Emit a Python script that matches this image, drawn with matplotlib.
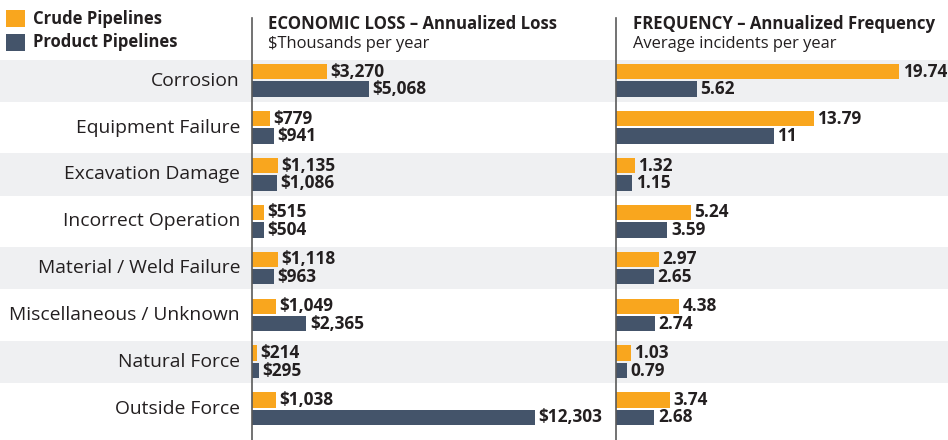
import matplotlib
matplotlib.use("Agg")
import matplotlib.pyplot as plt
from matplotlib.patches import Rectangle

categories = ["Corrosion", "Equipment Failure", "Excavation Damage", "Incorrect Operation",
              "Material / Weld Failure", "Miscellaneous / Unknown", "Natural Force", "Outside Force"]
loss_crude = [3270, 779, 1135, 515, 1118, 1049, 214, 1038]
loss_product = [5068, 941, 1086, 504, 963, 2365, 295, 12303]
freq_crude = [19.74, 13.79, 1.32, 5.24, 2.97, 4.38, 1.03, 3.74]
freq_product = [5.62, 11, 1.15, 3.59, 2.65, 2.74, 0.79, 2.68]

ORANGE = "#F9A61E"
BLUE = "#44546A"
BAND = "#EFF0F2"
TXT = "#231F20"
AXC = "#5A5A5A"
FONT = "Open Sans"
plt.rcParams["font.family"] = [FONT, "DejaVu Sans"]

W, H = 948, 440
fig = plt.figure(figsize=(W / 100, H / 100), dpi=100)

def fx(px):
    return px / W

def fy(py):
    return 1 - py / H

top_px = 18
ax_bottom = 0.0
ax_top = fy(top_px)
ylim = (7.66, -1.335)

# background bands
bg = fig.add_axes([0, ax_bottom, 1, ax_top - ax_bottom])
bg.set_xlim(0, 1)
bg.set_ylim(*ylim)
for i in range(len(categories)):
    if i % 2 == 0:
        bg.axhspan(i - 0.45, i + 0.45, color=BAND, lw=0)
    bg.text(fx(240), i, categories[i], ha="right", va="center", fontsize=13.9,
            color=TXT, transform=bg.get_yaxis_transform())
bg.axis("off")

bh = 0.33
off_c = -0.19
off_p = 0.18

def panel(left_px, right_px, xmax, crude, product, fmt):
    ax = fig.add_axes([fx(left_px), ax_bottom, fx(right_px - left_px), ax_top - ax_bottom])
    ax.patch.set_alpha(0)
    ax.set_xlim(0, xmax)
    ax.set_ylim(*ylim)
    ys = list(range(len(categories)))
    ax.barh([y + off_c for y in ys], crude, height=bh, color=ORANGE, lw=0)
    ax.barh([y + off_p for y in ys], product, height=bh, color=BLUE, lw=0)
    for y, v in zip(ys, crude):
        ax.annotate(fmt(v), (v, y + off_c), xytext=(2.5, 0), textcoords="offset points",
                    ha="left", va="center", fontsize=12.4, fontweight="bold", color=TXT)
    for y, v in zip(ys, product):
        ax.annotate(fmt(v), (v, y + off_p), xytext=(2.5, 0), textcoords="offset points",
                    ha="left", va="center", fontsize=12.4, fontweight="bold", color=TXT)
    for s in ["top", "right", "bottom"]:
        ax.spines[s].set_visible(False)
    ax.spines["left"].set_color(AXC)
    ax.spines["left"].set_linewidth(1.2)
    ax.set_xticks([])
    ax.set_yticks([])
    return ax

panel(252, 600, 348 / 0.023, loss_crude, loss_product, lambda v: "\\$" + f"{v:,}")
panel(616, 948, 332 / 14.34, freq_crude, freq_product,
      lambda v: (f"{v:g}" if v != int(v) else f"{int(v)}"))

# headers
fig.text(fx(268), fy(24), "ECONOMIC LOSS – Annualized Loss", ha="left", va="center",
         fontsize=12.1, fontweight="bold", color=TXT)
fig.text(fx(268), fy(44), "\\$Thousands per year", ha="left", va="center",
         fontsize=11.9, color=TXT)
fig.text(fx(633), fy(24), "FREQUENCY – Annualized Frequency", ha="left", va="center",
         fontsize=12.1, fontweight="bold", color=TXT)
fig.text(fx(633), fy(44), "Average incidents per year", ha="left", va="center",
         fontsize=11.9, color=TXT)

# legend
fig.add_artist(Rectangle((fx(6), fy(27)), fx(19), 17 / H, color=ORANGE, lw=0,
                         transform=fig.transFigure))
fig.add_artist(Rectangle((fx(6), fy(51)), fx(19), 17 / H, color=BLUE, lw=0,
                         transform=fig.transFigure))
fig.text(fx(33), fy(19), "Crude Pipelines", ha="left", va="center", fontsize=12,
         fontweight="bold", color=TXT)
fig.text(fx(33), fy(42), "Product Pipelines", ha="left", va="center", fontsize=12,
         fontweight="bold", color=TXT)

fig.savefig("out.png", dpi=100)
